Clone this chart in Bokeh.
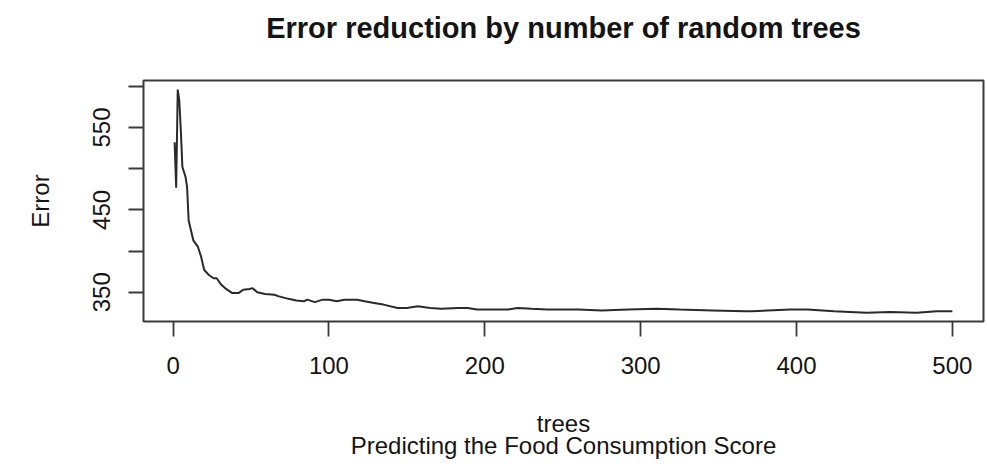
from bokeh.plotting import figure
from bokeh.models import Range1d, FixedTicker
from bokeh.embed import file_html
from bokeh.resources import INLINE

# Data
trees = [1, 2, 3, 4, 5, 6, 8, 9, 10, 13, 16, 18, 20, 23, 26, 28, 31, 34, 38, 42,
         45, 49, 51, 54, 59, 65, 68, 74, 79, 84, 86, 91, 96, 100, 105, 110, 118,
         123, 129, 135, 144, 150, 157, 165, 172, 183, 189, 195, 206, 215, 221,
         230, 240, 260, 275, 292, 310, 325, 346, 367, 371, 396, 407, 424, 445,
         460, 477, 490, 500]
error = [532, 477, 596, 583, 546, 502, 490, 478, 437, 413, 405, 393, 377, 371,
         367, 367, 359, 354, 349, 349, 353, 354, 355, 350, 348, 347, 345, 342,
         340, 339, 341, 338, 341, 341, 339, 341, 341, 339, 337, 335, 331, 331,
         333, 331, 330, 331, 331, 329, 329, 329, 331, 330, 329, 329, 328, 329,
         330, 329, 328, 327, 327, 329, 329, 327, 325, 326, 325, 327, 327]

x_ticks = [0, 100, 200, 300, 400, 500]
y_ticks = [350, 400, 450, 500, 550, 600]
y_tick_labels = {350: "350", 400: "", 450: "450", 500: "", 550: "550", 600: ""}

title_text = "Error reduction by number of random trees"
x_label = "trees"
y_label = "Error"
sub_text = "Predicting the Food Consumption Score"

FONT = "Liberation Sans"
TXT = "#141414"
LN = "#3a3a3a"

p = figure(width=987, height=470,
           x_range=Range1d(-18.96, 519.96), y_range=Range1d(314.5, 607.0),
           output_backend="svg", toolbar_location=None,
           min_border_left=143, min_border_right=4,
           min_border_top=80, min_border_bottom=149)

p.line(trees, error, line_color="#2a2a2a", line_width=2)

p.xgrid.visible = False
p.ygrid.visible = False
p.outline_line_color = LN
p.outline_line_width = 2
p.background_fill_color = "white"
p.border_fill_color = "white"

# Title (a blank second line keeps it clear of the frame, as in the reference)
p.title.text = title_text + "\n\u00a0"
p.title.align = "center"
p.title.standoff = 2
p.title.text_line_height = 1.1
p.title.text_font = FONT
p.title.text_font_size = "29px"
p.title.text_font_style = "bold"
p.title.text_color = TXT

for ax in (p.xaxis[0], p.yaxis[0]):
    ax.axis_line_color = None
    ax.major_tick_out = 15
    ax.major_tick_in = 0
    ax.minor_tick_line_color = None
    ax.major_tick_line_color = LN
    ax.major_tick_line_width = 1.8
    ax.major_label_text_font = FONT
    ax.major_label_text_font_size = "24px"
    ax.major_label_text_color = TXT
    ax.axis_label_text_font = FONT
    ax.axis_label_text_font_size = "24px"
    ax.axis_label_text_font_style = "normal"
    ax.axis_label_text_color = TXT

p.xaxis[0].ticker = FixedTicker(ticks=x_ticks)
p.xaxis[0].major_label_standoff = 20
p.xaxis[0].axis_label = x_label + "\n" + sub_text
p.xaxis[0].axis_label_text_line_height = 0.85
p.xaxis[0].axis_label_standoff = 33

p.yaxis[0].ticker = FixedTicker(ticks=y_ticks)
p.yaxis[0].major_label_overrides = y_tick_labels
p.yaxis[0].major_label_orientation = "parallel"
p.yaxis[0].major_label_standoff = 18
p.yaxis[0].axis_label = y_label
p.yaxis[0].axis_label_standoff = 37

open("out.html", "w").write(file_html(p, INLINE))
